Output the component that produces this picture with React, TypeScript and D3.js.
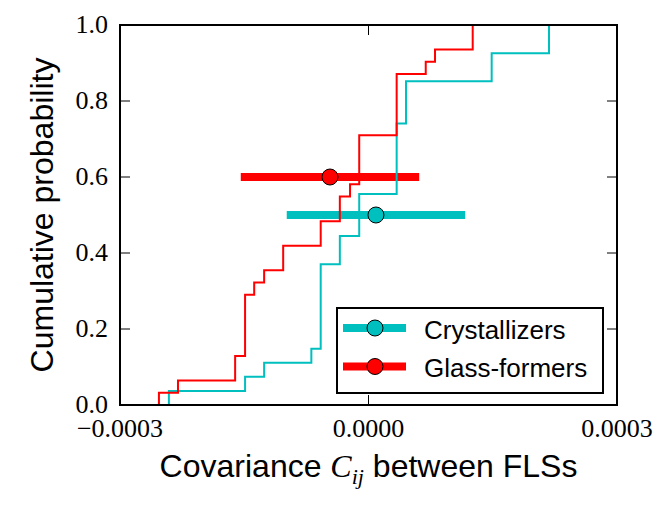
import * as d3 from "d3";
import React from "react";

// sorted samples of the covariance for each group
const crystallizers = [
  -2.41e-4, -1.49e-4, -1.26e-4, -0.69e-4,
  -0.577e-4, -0.577e-4, -0.577e-4, -0.577e-4, -0.577e-4, -0.577e-4,
  -0.346e-4, -0.346e-4,
  -0.112e-4, -0.112e-4, -0.112e-4,
  0.34e-4, 0.34e-4, 0.34e-4, 0.34e-4, 0.34e-4,
  0.453e-4, 0.453e-4, 0.453e-4,
  1.487e-4, 1.487e-4,
  2.179e-4, 2.179e-4,
];

const glassFormers = [
  -2.53e-4, -2.3e-4,
  -1.61e-4, -1.61e-4,
  -1.49e-4, -1.49e-4, -1.49e-4, -1.49e-4, -1.49e-4,
  -1.38e-4, -1.26e-4,
  -1.03e-4, -1.03e-4,
  -0.577e-4, -0.577e-4,
  -0.346e-4, -0.346e-4,
  -0.223e-4,
  -0.112e-4, -0.112e-4, -0.112e-4, -0.112e-4,
  0.34e-4, 0.34e-4, 0.34e-4, 0.34e-4, 0.34e-4,
  0.691e-4, 0.803e-4,
  1.258e-4, 1.258e-4,
];

// summary markers: centre, half width of the bar, height on the y axis
const seriesNames = ["Crystallizers", "Glass-formers"];
const seriesColors = ["#00bfbf", "#ff0000"];
const centres = [0.09e-4, -0.465e-4];
const spreads = [1.077e-4, 1.077e-4];
const levels = [0.5, 0.6];

const xTicks = [-0.0003, 0, 0.0003];
const yTicks = [0, 0.2, 0.4, 0.6, 0.8, 1.0];

const App = (): React.ReactElement => {
  const chartRef = React.useRef<SVGSVGElement>(null);

  const margin = { top: 25, right: 47, bottom: 103, left: 120 };
  const width = 664 - margin.left - margin.right;
  const height = 508 - margin.top - margin.bottom;

  React.useEffect(() => {
    const root = d3.select(chartRef.current);
    root.selectAll("*").remove();

    const svg = root
      .append("g")
      .attr("transform", `translate(${margin.left}, ${margin.top})`);

    const xScale = d3.scaleLinear().domain([-0.0003, 0.0003]).range([0, width]);
    const yScale = d3.scaleLinear().domain([0, 1]).range([height, 0]);

    const serif = "'Liberation Serif', 'Times New Roman', serif";
    const sans = "'Liberation Sans', Arial, sans-serif";

    // Error bars (drawn under the step lines)
    [0, 1].forEach((i) => {
      svg
        .append("line")
        .attr("x1", xScale(centres[i] - spreads[i]))
        .attr("x2", xScale(centres[i] + spreads[i]))
        .attr("y1", yScale(levels[i]))
        .attr("y2", yScale(levels[i]))
        .attr("stroke", seriesColors[i])
        .attr("stroke-width", 8);
    });

    // ECDF step lines
    const xEnd = d3.max([...crystallizers, ...glassFormers]) as number;
    const line = d3
      .line<[number, number]>()
      .x((d) => xScale(d[0]))
      .y((d) => yScale(d[1]))
      .curve(d3.curveStepAfter);

    [crystallizers, glassFormers].forEach((samples, i) => {
      const sorted = samples.slice().sort((a, b) => a - b);
      const n = sorted.length;
      const pts: [number, number][] = [[sorted[0], 0]];
      sorted.forEach((v, k) => pts.push([v, (k + 1) / n]));
      pts.push([xEnd, 1]);
      svg
        .append("path")
        .datum(pts)
        .attr("fill", "none")
        .attr("stroke", seriesColors[i])
        .attr("stroke-width", 2)
        .attr("d", line);
    });

    // Markers
    [0, 1].forEach((i) => {
      svg
        .append("circle")
        .attr("cx", xScale(centres[i]))
        .attr("cy", yScale(levels[i]))
        .attr("r", 8)
        .attr("fill", seriesColors[i])
        .attr("stroke", "black")
        .attr("stroke-width", 1);
    });

    // Inward ticks on all four sides
    const tickLen = 10;
    xTicks.forEach((t) => {
      svg.append("line").attr("x1", xScale(t)).attr("x2", xScale(t))
        .attr("y1", height).attr("y2", height - tickLen)
        .attr("stroke", "black").attr("stroke-width", 1);
      svg.append("line").attr("x1", xScale(t)).attr("x2", xScale(t))
        .attr("y1", 0).attr("y2", tickLen)
        .attr("stroke", "black").attr("stroke-width", 1);
    });
    yTicks.forEach((t) => {
      svg.append("line").attr("x1", 0).attr("x2", tickLen)
        .attr("y1", yScale(t)).attr("y2", yScale(t))
        .attr("stroke", "black").attr("stroke-width", 1);
      svg.append("line").attr("x1", width).attr("x2", width - tickLen)
        .attr("y1", yScale(t)).attr("y2", yScale(t))
        .attr("stroke", "black").attr("stroke-width", 1);
    });

    // Frame
    svg
      .append("rect")
      .attr("width", width)
      .attr("height", height)
      .attr("fill", "none")
      .attr("stroke", "black")
      .attr("stroke-width", 2);

    // Tick labels
    const fmtX = d3.format(".4f");
    const fmtY = d3.format(".1f");
    xTicks.forEach((t) => {
      svg.append("text")
        .attr("x", xScale(t))
        .attr("y", height + 32)
        .attr("text-anchor", "middle")
        .attr("font-family", serif)
        .attr("font-size", 26)
        .text(fmtX(t));
    });
    yTicks.forEach((t) => {
      svg.append("text")
        .attr("x", -12)
        .attr("y", yScale(t) + 8)
        .attr("text-anchor", "end")
        .attr("font-family", serif)
        .attr("font-size", 26)
        .text(fmtY(t));
    });

    // Axis titles
    const xTitle = svg
      .append("text")
      .attr("x", width / 2)
      .attr("y", height + 72)
      .attr("text-anchor", "middle")
      .attr("font-family", sans)
      .attr("font-size", 32);
    xTitle.append("tspan").text("Covariance ");
    xTitle.append("tspan").attr("font-family", serif).attr("font-style", "italic").text("C");
    xTitle.append("tspan").attr("font-family", serif).attr("font-style", "italic")
      .attr("font-size", 22).attr("dy", 7).text("ij");
    xTitle.append("tspan").attr("dy", -7).text(" between FLSs");

    svg
      .append("text")
      .attr("transform", `translate(${-67}, ${height / 2}) rotate(-90)`)
      .attr("text-anchor", "middle")
      .attr("font-family", sans)
      .attr("font-size", 32)
      .text("Cumulative probability");

    // Legend
    const legend = svg.append("g").attr("transform", `translate(${217}, ${283})`);
    legend
      .append("rect")
      .attr("width", 266)
      .attr("height", 85)
      .attr("fill", "white")
      .attr("stroke", "black")
      .attr("stroke-width", 2);
    seriesNames.forEach((name, i) => {
      const cy = 20 + i * 38.5;
      legend.append("line")
        .attr("x1", 6).attr("x2", 69)
        .attr("y1", cy).attr("y2", cy)
        .attr("stroke", seriesColors[i]).attr("stroke-width", 8);
      legend.append("circle")
        .attr("cx", 38).attr("cy", cy).attr("r", 8)
        .attr("fill", seriesColors[i]).attr("stroke", "black").attr("stroke-width", 1);
      legend.append("text")
        .attr("x", 87).attr("y", cy + 10.5)
        .attr("font-family", sans)
        .attr("font-size", 26)
        .text(name);
    });
  }, [height, margin.left, margin.top, width]);

  return (
    <div id="chartContainer">
      <svg
        ref={chartRef}
        width={664}
        height={508}
        style={{ position: "absolute", left: 0, top: 0, background: "white" }}
      ></svg>
    </div>
  );
};

export default App;
